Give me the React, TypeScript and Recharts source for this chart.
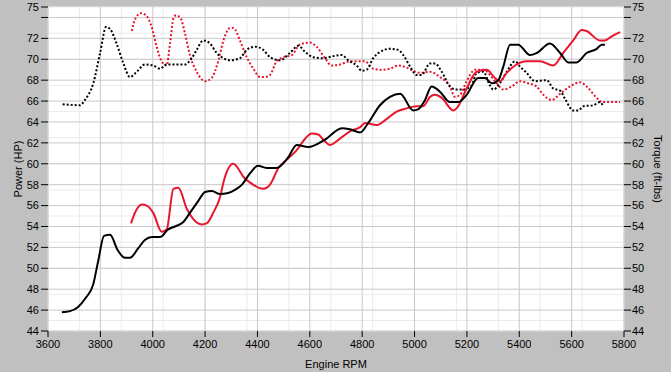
import React from "react";
import { LineChart, Line, XAxis, YAxis, CartesianGrid, Label } from "recharts";

const xTicks = [3600, 3800, 4000, 4200, 4400, 4600, 4800, 5000, 5200, 5400, 5600, 5800];
const yTicks = [44, 46, 48, 50, 52, 54, 56, 58, 60, 62, 64, 66, 68, 70, 72, 74, 75];

const blackPowerRpm = [3653, 3684, 3715, 3745, 3772, 3791, 3814, 3837, 3867, 3894, 3913, 3944, 3970, 3997, 4028, 4058, 4085, 4116, 4142, 4173, 4200, 4226, 4257, 4288, 4314, 4341, 4372, 4402, 4435, 4473, 4517, 4550, 4594, 4658, 4722, 4753, 4792, 4823, 4868, 4906, 4945, 4995, 5013, 5040, 5065, 5097, 5135, 5167, 5199, 5243, 5269, 5295, 5320, 5339, 5365, 5396, 5441, 5467, 5517, 5556, 5587, 5619, 5657, 5696, 5715, 5727];
const blackPowerHp = [45.8, 45.9, 46.3, 47.2, 48.4, 50.6, 53.1, 53.2, 51.7, 51.0, 51.0, 51.9, 52.7, 53.0, 53.0, 53.7, 54.0, 54.4, 55.3, 56.4, 57.3, 57.4, 57.1, 57.2, 57.5, 58.0, 59.1, 59.8, 59.6, 59.6, 60.6, 61.8, 61.6, 62.3, 63.4, 63.3, 63.0, 63.9, 65.6, 66.4, 66.7, 65.1, 65.2, 66.1, 67.4, 66.9, 65.9, 65.9, 66.6, 68.2, 68.2, 67.7, 68.0, 69.3, 71.4, 71.4, 70.4, 70.6, 71.5, 70.6, 69.7, 69.7, 70.6, 71.0, 71.4, 71.4];

const redPowerRpm = [3917, 3932, 3958, 3977, 4002, 4034, 4053, 4079, 4098, 4130, 4155, 4187, 4206, 4231, 4257, 4272, 4307, 4352, 4372, 4422, 4448, 4480, 4512, 4550, 4582, 4607, 4632, 4652, 4677, 4715, 4753, 4792, 4811, 4855, 4894, 4932, 4970, 5008, 5033, 5059, 5078, 5104, 5148, 5161, 5199, 5237, 5276, 5307, 5326, 5352, 5384, 5428, 5479, 5530, 5568, 5606, 5638, 5657, 5708, 5727, 5753, 5785];
const redPowerHp = [54.3, 55.3, 56.1, 56.0, 55.3, 53.5, 53.7, 57.6, 57.7, 55.7, 54.7, 54.2, 54.3, 55.3, 56.8, 58.4, 60.0, 58.6, 58.2, 57.6, 58.0, 59.6, 60.4, 61.3, 62.4, 62.9, 62.8, 62.3, 61.8, 62.4, 63.1, 63.5, 63.9, 63.7, 64.3, 65.0, 65.3, 65.5, 65.5, 66.4, 66.6, 66.3, 65.1, 65.3, 67.2, 68.8, 69.0, 68.2, 67.9, 68.7, 69.4, 69.8, 69.8, 69.4, 70.6, 71.8, 72.8, 72.7, 71.8, 71.8, 72.2, 72.6];

const blackTorqueRpm = [3656, 3722, 3741, 3773, 3799, 3822, 3837, 3862, 3888, 3913, 3939, 3970, 4002, 4028, 4053, 4085, 4123, 4149, 4168, 4193, 4219, 4244, 4270, 4295, 4333, 4359, 4391, 4422, 4448, 4486, 4524, 4556, 4582, 4613, 4652, 4690, 4722, 4747, 4779, 4798, 4817, 4842, 4868, 4906, 4938, 4957, 4983, 5008, 5027, 5059, 5078, 5104, 5135, 5161, 5186, 5218, 5237, 5263, 5288, 5301, 5326, 5352, 5384, 5403, 5428, 5460, 5505, 5530, 5556, 5575, 5606, 5625, 5645, 5683, 5708, 5721];
const blackTorqueFtLb = [65.7, 65.6, 66.1, 67.7, 70.6, 73.1, 72.9, 71.5, 69.6, 68.3, 68.8, 69.5, 69.4, 69.1, 69.5, 69.5, 69.5, 70.1, 70.9, 71.8, 71.5, 70.6, 70.1, 69.9, 70.1, 70.9, 71.2, 70.9, 70.2, 69.9, 70.6, 71.3, 70.7, 70.2, 70.1, 70.3, 70.4, 69.9, 69.4, 68.9, 69.0, 70.1, 70.7, 71.0, 70.9, 70.4, 69.3, 68.5, 68.5, 69.6, 69.6, 68.8, 67.4, 67.1, 67.1, 67.5, 68.7, 68.8, 67.5, 67.1, 67.7, 68.8, 69.8, 69.3, 68.7, 67.9, 68.0, 67.2, 67.0, 66.2, 65.1, 65.1, 65.5, 65.6, 65.9, 65.5];

const redTorqueRpm = [3920, 3932, 3955, 3974, 3996, 4015, 4034, 4053, 4066, 4079, 4089, 4107, 4123, 4142, 4168, 4200, 4225, 4250, 4270, 4295, 4308, 4333, 4359, 4384, 4410, 4429, 4448, 4473, 4499, 4531, 4562, 4601, 4626, 4658, 4683, 4715, 4753, 4779, 4811, 4842, 4874, 4906, 4938, 4970, 4995, 5021, 5059, 5097, 5135, 5154, 5174, 5199, 5231, 5263, 5288, 5314, 5339, 5371, 5403, 5434, 5466, 5492, 5524, 5556, 5594, 5632, 5657, 5696, 5715, 5785];
const redTorqueFtLb = [72.7, 73.8, 74.4, 74.2, 73.1, 71.2, 69.8, 69.4, 71.5, 73.9, 74.2, 73.9, 72.5, 70.4, 68.8, 67.9, 68.2, 69.8, 71.8, 73.0, 73.0, 71.8, 70.2, 69.1, 68.3, 68.3, 68.5, 69.8, 70.2, 70.4, 71.4, 71.6, 71.2, 70.1, 69.4, 69.5, 69.8, 69.8, 69.8, 69.1, 69.0, 69.1, 69.4, 69.2, 68.9, 68.7, 68.8, 68.3, 67.4, 66.4, 66.6, 67.9, 69.0, 69.0, 68.5, 67.7, 67.1, 67.4, 67.9, 67.7, 67.4, 66.6, 66.1, 66.7, 67.4, 67.8, 67.4, 66.3, 65.9, 65.9];

const zip = (xs: number[], ys: number[]) => xs.map((x, i) => ({ rpm: x, v: ys[i] }));

const minorX: number[] = [];
for (let r = 3600; r <= 5800; r += 40) minorX.push(r);
const minorY: number[] = [];
for (let y = 44; y <= 75; y += 0.5) minorY.push(y);

const FONT = "'Liberation Sans', Arial, sans-serif";
const RED = "#e8152d";

const fmt = (v: number) => (v === 74 ? "" : String(v));

export default function App() {
  return (
    <div style={{ position: "absolute", left: 0, top: 0, width: 671, height: 372, background: "#c0c0c0" }}>
      <LineChart width={671} height={372} margin={{ top: 7, right: 0, bottom: 0, left: 0 }} style={{ fontFamily: FONT }}>
        <XAxis xAxisId="minor" type="number" dataKey="rpm" domain={[3600, 5800]} ticks={minorX} hide allowDataOverflow />
        <YAxis yAxisId="minor" type="number" domain={[44, 75]} ticks={minorY} hide allowDataOverflow />
        <CartesianGrid xAxisId="minor" yAxisId="minor" stroke="#ebebeb" strokeWidth={1} fill="#ffffff" fillOpacity={1} />
        <XAxis
          type="number"
          dataKey="rpm"
          domain={[3600, 5800]}
          ticks={xTicks}
          allowDataOverflow
          height={41}
          axisLine={false}
          tickSize={6}
          tickMargin={3}
          tickLine={{ stroke: "#000", strokeWidth: 1 }}
          tick={{ fill: "#000", fontSize: 11, fontFamily: FONT }}
          interval={0}
        >
          <Label value="Engine RPM" position="insideBottom" offset={4} style={{ fill: "#000", fontSize: 11, fontFamily: FONT }} />
        </XAxis>
        <YAxis
          yAxisId="left"
          type="number"
          domain={[44, 75]}
          ticks={yTicks}
          allowDataOverflow
          width={48}
          axisLine={false}
          tickSize={7}
          tickMargin={2}
          tickFormatter={fmt}
          tickLine={{ stroke: "#000", strokeWidth: 1 }}
          tick={{ fill: "#000", fontSize: 11, fontFamily: FONT }}
          interval={0}
          label={(p: any) => {
            const vb = p.viewBox || {};
            const cy = vb.y + vb.height / 2;
            return (
              <text x={18} y={cy} transform={`rotate(-90 18 ${cy})`} textAnchor="middle" dominantBaseline="central" fontSize={11} fontFamily={FONT} fill="#000">
                Power (HP)
              </text>
            );
          }}
        />
        <YAxis
          yAxisId="right"
          orientation="right"
          type="number"
          domain={[44, 75]}
          ticks={yTicks}
          allowDataOverflow
          width={47}
          axisLine={false}
          tickSize={7}
          tickMargin={1}
          tickFormatter={fmt}
          tickLine={{ stroke: "#000", strokeWidth: 1 }}
          tick={{ fill: "#000", fontSize: 11, fontFamily: FONT }}
          interval={0}
          label={(p: any) => {
            const vb = p.viewBox || {};
            const cy = vb.y + vb.height / 2;
            return (
              <text x={658} y={cy} transform={`rotate(90 658 ${cy})`} textAnchor="middle" dominantBaseline="central" fontSize={11} fontFamily={FONT} fill="#000">
                Torque (ft-lbs)
              </text>
            );
          }}
        />
        <CartesianGrid yAxisId="left" stroke="#c8c8c8" strokeWidth={1} fill="none" horizontalValues={[44, 46, 48, 50, 52, 54, 56, 58, 60, 62, 64, 66, 68, 70, 72, 74]} />
        <Line yAxisId="left" data={zip(redTorqueRpm, redTorqueFtLb)} dataKey="v" type="monotone" stroke={RED} strokeWidth={2} strokeDasharray="2 2" dot={false} isAnimationActive={false} />
        <Line yAxisId="left" data={zip(blackTorqueRpm, blackTorqueFtLb)} dataKey="v" type="monotone" stroke="#000" strokeWidth={2} strokeDasharray="2 2" dot={false} isAnimationActive={false} />
        <Line yAxisId="left" data={zip(redPowerRpm, redPowerHp)} dataKey="v" type="monotone" stroke={RED} strokeWidth={2} dot={false} isAnimationActive={false} />
        <Line yAxisId="left" data={zip(blackPowerRpm, blackPowerHp)} dataKey="v" type="monotone" stroke="#000" strokeWidth={2} dot={false} isAnimationActive={false} />
      </LineChart>
    </div>
  );
}
